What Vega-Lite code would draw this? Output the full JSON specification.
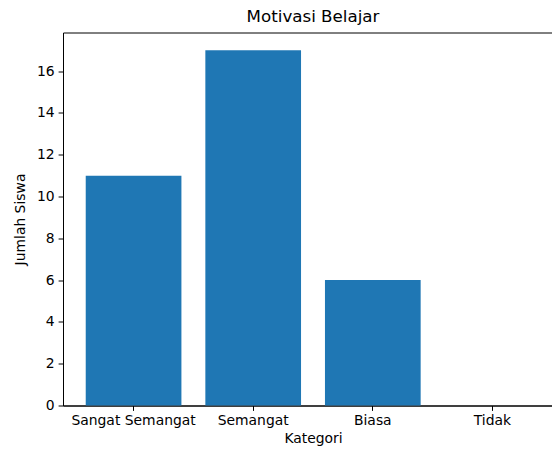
{
  "$schema": "https://vega.github.io/schema/vega-lite/v6.json",
  "width": 489,
  "height": 373,
  "autosize": {"type": "none"},
  "padding": {"left": 63, "top": 32.5, "right": 0, "bottom": 44.5},
  "background": "white",
  "title": {"text": "Motivasi Belajar", "font": "DejaVu Sans", "fontSize": 16.7, "fontWeight": "normal", "color": "black", "offset": 7, "dx": 5.5},
  "config": {
    "view": {"stroke": "black", "strokeWidth": 1},
    "axis": {"labelFont": "DejaVu Sans", "titleFont": "DejaVu Sans", "labelFontSize": 13.9, "titleFontSize": 13.9, "titleFontWeight": "normal", "labelColor": "black", "titleColor": "black", "domainColor": "black", "tickColor": "black", "grid": false, "tickSize": 4.9, "domainWidth": 1, "tickWidth": 1}
  },
  "data": {"values": [
    {"Kategori": "Sangat Semangat", "Jumlah": 11},
    {"Kategori": "Semangat", "Jumlah": 17},
    {"Kategori": "Biasa", "Jumlah": 6},
    {"Kategori": "Tidak", "Jumlah": 0}
  ]},
  "mark": {"type": "bar", "color": "#1f77b4"},
  "encoding": {
    "x": {"field": "Kategori", "type": "nominal", "sort": null,
      "scale": {"paddingInner": 0.2, "paddingOuter": 0.19, "range": [0, 500]},
      "axis": {"labelAngle": 0, "title": "Kategori", "labelPadding": 3, "titlePadding": 4, "titleX": 250, "titleAnchor": "middle"}},
    "y": {"field": "Jumlah", "type": "quantitative",
      "scale": {"domain": [0, 17.85], "nice": false},
      "axis": {"values": [0, 2, 4, 6, 8, 10, 12, 14, 16], "title": "Jumlah Siswa", "labelPadding": 4, "titlePadding": 9}}
  }
}
